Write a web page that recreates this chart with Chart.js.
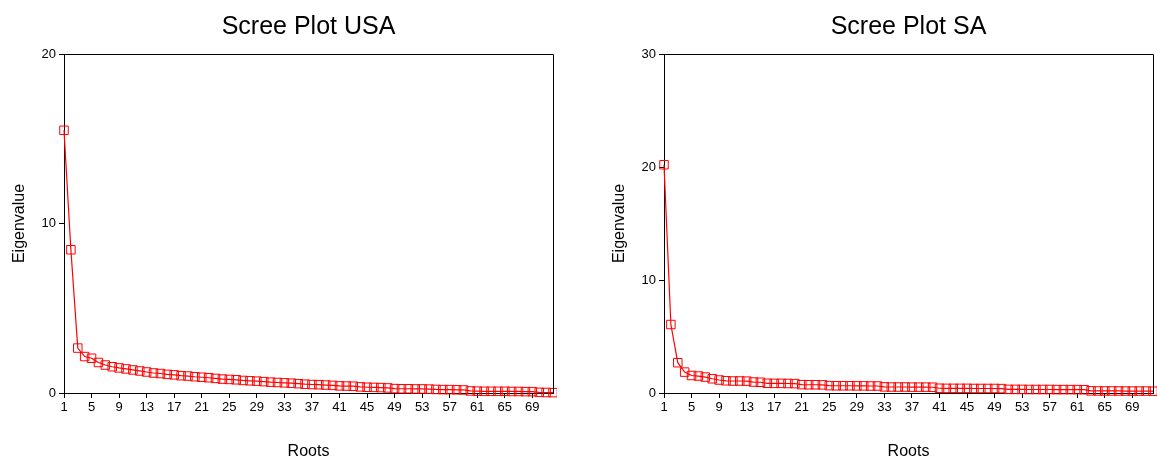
<!DOCTYPE html>
<html>
<head>
<meta charset="utf-8">
<script src="https://cdn.jsdelivr.net/npm/chart.js@4/dist/chart.umd.min.js"></script>
<style>
  html, body { margin: 0; padding: 0; background: #fff; }
  body { width: 1157px; height: 457px; position: relative; overflow: hidden; }
  .box { position: absolute; top: 0; width: 557px; height: 457px; }
  #boxUsa { left: 0; }
  #boxSa { left: 600px; }
</style>
</head>
<body>
<div class="box" id="boxUsa"><canvas id="usaChart"></canvas></div>
<div class="box" id="boxSa"><canvas id="saChart"></canvas></div>
<script>
// Data
const roots = [1, 2, 3, 4, 5, 6, 7, 8, 9, 10, 11, 12, 13, 14, 15, 16, 17, 18, 19, 20,
  21, 22, 23, 24, 25, 26, 27, 28, 29, 30, 31, 32, 33, 34, 35, 36, 37, 38, 39, 40,
  41, 42, 43, 44, 45, 46, 47, 48, 49, 50, 51, 52, 53, 54, 55, 56, 57, 58, 59, 60,
  61, 62, 63, 64, 65, 66, 67, 68, 69, 70, 71, 72];
const rootTicks = [1, 5, 9, 13, 17, 21, 25, 29, 33, 37, 41, 45, 49, 53, 57, 61, 65, 69];

const usaEigen = [15.5, 8.45, 2.65, 2.15, 2.05, 1.8, 1.65, 1.55, 1.48, 1.42,
  1.36, 1.3, 1.24, 1.18, 1.15, 1.1, 1.07, 1.02, 1.0, 0.96,
  0.93, 0.9, 0.86, 0.82, 0.8, 0.78, 0.74, 0.72, 0.7, 0.67,
  0.64, 0.62, 0.6, 0.58, 0.55, 0.52, 0.5, 0.49, 0.47, 0.45,
  0.42, 0.41, 0.4, 0.36, 0.34, 0.33, 0.32, 0.3, 0.26, 0.25,
  0.25, 0.24, 0.24, 0.23, 0.21, 0.2, 0.2, 0.19, 0.18, 0.12,
  0.11, 0.1, 0.1, 0.1, 0.1, 0.09, 0.09, 0.08, 0.08, 0.04,
  0.03, 0.02];
const saEigen = [20.2, 6.06, 2.68, 1.85, 1.55, 1.5, 1.41, 1.26, 1.15, 1.08,
  1.06, 1.06, 1.05, 0.97, 0.95, 0.86, 0.85, 0.85, 0.84, 0.83,
  0.74, 0.73, 0.73, 0.72, 0.65, 0.64, 0.64, 0.64, 0.63, 0.63,
  0.62, 0.62, 0.54, 0.53, 0.53, 0.53, 0.52, 0.52, 0.52, 0.51,
  0.42, 0.41, 0.41, 0.41, 0.41, 0.4, 0.4, 0.4, 0.4, 0.39,
  0.32, 0.32, 0.32, 0.31, 0.31, 0.31, 0.31, 0.3, 0.3, 0.3,
  0.3, 0.29, 0.19, 0.18, 0.18, 0.18, 0.18, 0.17, 0.17, 0.17,
  0.17, 0.16];

const usaYTicks = [0, 10, 20];
const saYTicks = [0, 10, 20, 30];

const FONT = 'Arial, "Liberation Sans", sans-serif';

// draws the top and right sides of the plot box
const frame = {
  id: 'frame',
  afterDraw(chart) {
    const a = chart.chartArea;
    const ctx = chart.ctx;
    ctx.save();
    ctx.strokeStyle = '#000';
    ctx.lineWidth = 1;
    ctx.beginPath();
    ctx.moveTo(a.left, a.top + 0.5);
    ctx.lineTo(a.right + 0.5, a.top + 0.5);
    ctx.lineTo(a.right + 0.5, a.bottom);
    ctx.stroke();
    ctx.restore();
  }
};

function makeChart(id, title, values, yTicks) {
  const ctx = document.getElementById(id).getContext('2d');
  return new Chart(ctx, {
    type: 'line',
    data: {
      datasets: [{
        data: values.map((v, i) => ({ x: roots[i], y: v })),
        borderColor: '#ff0000',
        borderWidth: 1.2,
        tension: 0,
        pointStyle: 'rect',
        pointRadius: 6,
        pointBorderWidth: 1,
        pointBorderColor: '#ff0000',
        pointBackgroundColor: 'rgba(0,0,0,0)',
        clip: false
      }]
    },
    options: {
      responsive: true,
      maintainAspectRatio: false,
      animation: false,
      layout: { autoPadding: false, padding: { left: 0, right: 4, top: 0, bottom: 0 } },
      plugins: {
        legend: { display: false },
        tooltip: { enabled: false },
        title: {
          display: true,
          text: title,
          fullSize: false,
          color: '#000',
          font: { family: FONT, size: 25, weight: 'normal' },
          padding: { top: 12, bottom: 12 }
        }
      },
      scales: {
        x: {
          type: 'linear',
          min: 1,
          max: 72,
          afterBuildTicks: s => { s.ticks = rootTicks.map(v => ({ value: v })); },
          afterFit: s => { s.height = 64; s.paddingLeft = 0; s.paddingRight = 0; },
          grid: { drawOnChartArea: false, drawTicks: true, tickLength: 5, color: '#000' },
          border: { display: true, color: '#000', width: 1 },
          ticks: { color: '#000', font: { family: FONT, size: 13 }, padding: 2, maxRotation: 0, autoSkip: false },
          title: { display: true, text: 'Roots', color: '#000', font: { family: FONT, size: 16 }, padding: { top: 0, bottom: -4 } }
        },
        y: {
          min: 0,
          max: yTicks[yTicks.length - 1],
          afterBuildTicks: s => { s.ticks = yTicks.map(v => ({ value: v })); },
          afterFit: s => { s.width = 64; },
          grid: { drawOnChartArea: false, drawTicks: true, tickLength: 5, color: '#000' },
          border: { display: true, color: '#000', width: 1 },
          ticks: { color: '#000', font: { family: FONT, size: 13 }, padding: 3 },
          title: { display: true, text: 'Eigenvalue', color: '#000', font: { family: FONT, size: 16 }, padding: { top: 10, bottom: 0 } }
        }
      }
    },
    plugins: [frame]
  });
}

makeChart('usaChart', 'Scree Plot USA', usaEigen, usaYTicks);
makeChart('saChart', 'Scree Plot SA', saEigen, saYTicks);
</script>
</body>
</html>
